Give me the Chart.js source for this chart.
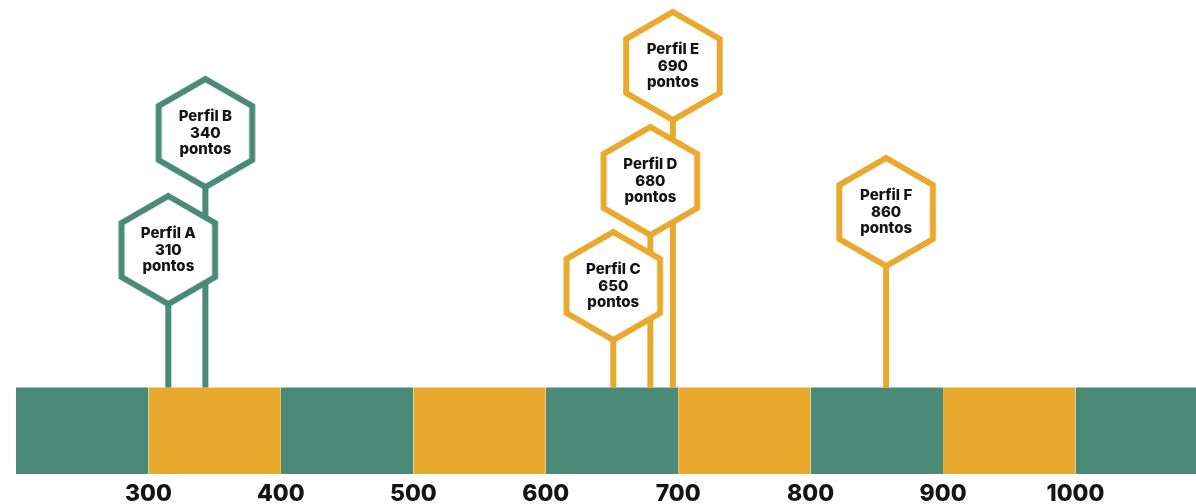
<!DOCTYPE html>
<html>
<head>
<meta charset="utf-8">
<script src="https://cdn.jsdelivr.net/npm/chart.js@4"></script>
<style>
  html, body { margin: 0; padding: 0; background: #ffffff; }
  #wrap { width: 1196px; height: 504px; position: relative; }
</style>
</head>
<body>
<div id="wrap"><canvas id="c"></canvas></div>
<script>
// ---- data ----
const profileNames = ['A', 'B', 'C', 'D', 'E', 'F'];
const profileScores = [310, 340, 650, 680, 690, 860];
const markerPositions = [315, 343, 651, 679, 696, 857];   // where each stem meets the scale
const markerHeights = [224, 341, 188, 293, 408, 262];      // label heights above the scale bottom
const markerGroups = ['green', 'green', 'orange', 'orange', 'orange', 'orange'];
const bandEdges = [200, 300, 400, 500, 600, 700, 800, 900, 1000, 1091];
const bandGroups = ['green', 'orange', 'green', 'orange', 'green', 'orange', 'green', 'orange', 'green'];
const tickValues = [300, 400, 500, 600, 700, 800, 900, 1000];
const bandTop = 86.5;

// ---- styles ----
const COLORS = { green: '#4a8a77', orange: '#e9a92e' };
const FONT = 'Inter, "Open Sans", "DejaVu Sans", sans-serif';

function hexImage(color) {
  const size = 124, R = 54, cv = document.createElement('canvas');
  cv.width = size; cv.height = size;
  const g = cv.getContext('2d');
  g.beginPath();
  for (let i = 0; i < 6; i++) {
    const a = -Math.PI / 2 + i * Math.PI / 3;
    const px = size / 2 + R * Math.cos(a), py = size / 2 + R * Math.sin(a);
    if (i === 0) g.moveTo(px, py); else g.lineTo(px, py);
  }
  g.closePath();
  g.fillStyle = '#ffffff';
  g.fill();
  g.lineWidth = 6;
  g.lineJoin = 'miter';
  g.strokeStyle = color;
  g.stroke();
  return cv;
}
const hexes = { green: hexImage(COLORS.green), orange: hexImage(COLORS.orange) };

const datasets = [];
// hexagon labels (top)
datasets.push({
  type: 'scatter',
  label: 'perfis',
  order: 0,
  clip: false,
  data: markerPositions.map((x, i) => ({ x: x, y: markerHeights[i] })),
  pointStyle: markerGroups.map(g => hexes[g]),
  pointRadius: 55,
  pointHoverRadius: 55,
  showLine: false
});
// stems
markerPositions.forEach((x, i) => {
  datasets.push({
    type: 'line',
    label: 'haste ' + profileNames[i],
    order: 1,
    data: [{ x: x, y: bandTop }, { x: x, y: markerHeights[i] }],
    borderColor: COLORS[markerGroups[i]],
    borderWidth: 6,
    pointRadius: 0,
    fill: false
  });
});
// band segments
bandGroups.forEach((g, i) => {
  datasets.push({
    type: 'line',
    label: 'faixa ' + i,
    order: 2,
    data: [{ x: bandEdges[i], y: bandTop }, { x: bandEdges[i + 1], y: bandTop }],
    borderWidth: 0,
    borderColor: 'rgba(0,0,0,0)',
    backgroundColor: COLORS[g],
    pointRadius: 0,
    fill: { value: 0 }
  });
});

const labelPlugin = {
  id: 'hexText',
  afterDatasetsDraw(chart) {
    const meta = chart.getDatasetMeta(0);
    const ctx = chart.ctx;
    ctx.save();
    ctx.fillStyle = '#141414';
    ctx.textAlign = 'center';
    ctx.textBaseline = 'middle';
    ctx.font = '800 15px ' + FONT;
    meta.data.forEach((pt, i) => {
      const lines = ['Perfil ' + profileNames[i], String(profileScores[i]), 'pontos'];
      lines.forEach((t, k) => ctx.fillText(t, pt.x, pt.y + (k - 1) * 16.5));
    });
    ctx.restore();
  }
};

new Chart(document.getElementById('c'), {
  type: 'scatter',
  data: { datasets },
  plugins: [labelPlugin],
  options: {
    responsive: true,
    maintainAspectRatio: false,
    animation: false,
    layout: { autoPadding: false, padding: { left: 16, right: 0, top: 0, bottom: 0 } },
    plugins: { legend: { display: false }, tooltip: { enabled: false } },
    events: [],
    scales: {
      x: {
        type: 'linear',
        position: 'bottom',
        min: 200,
        max: 1091,
        grid: { display: false, drawTicks: false },
        border: { display: false },
        afterBuildTicks(scale) { scale.ticks = tickValues.map(v => ({ value: v })); },
        afterFit(scale) { scale.height = 30; },
        ticks: {
          autoSkip: false,
          maxRotation: 0,
          padding: 6,
          color: '#141414',
          font: { family: FONT, size: 23, weight: '800' },
          callback: (v) => String(v)
        }
      },
      y: {
        type: 'linear',
        display: false,
        min: 0,
        max: 474
      }
    }
  }
});
</script>
</body>
</html>
